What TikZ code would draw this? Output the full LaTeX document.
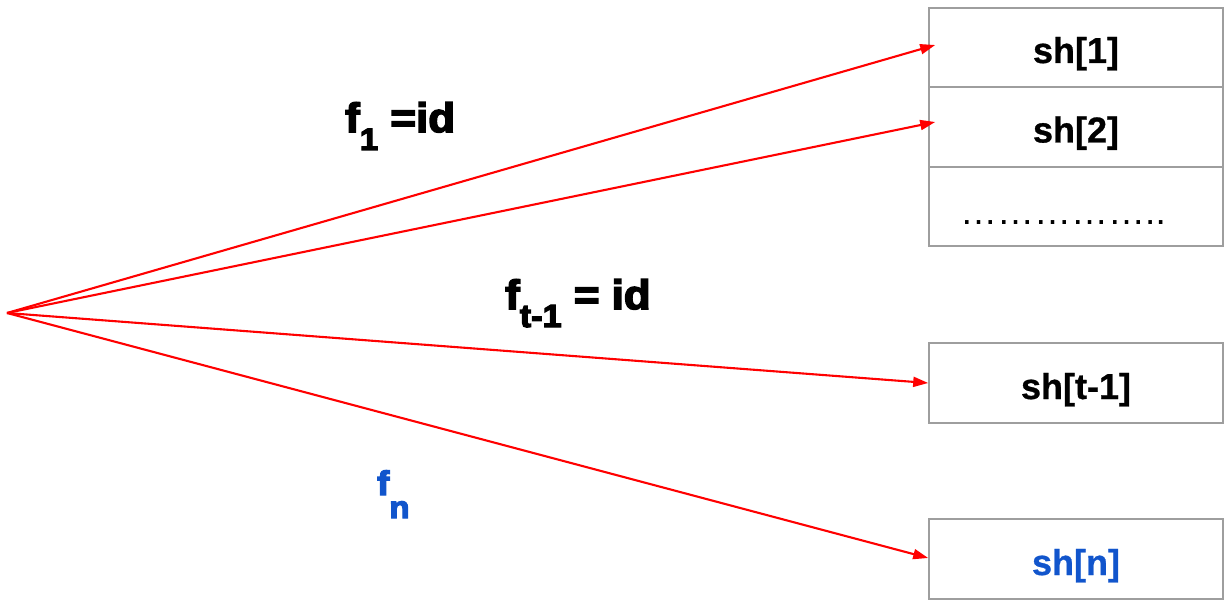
\documentclass[tikz,border=0pt]{standalone}
\usepackage{fontspec}
\setmainfont{Liberation Sans}
\newfontfamily\lblfont[FakeBold=4,FakeStretch=1.07]{Liberation Sans Bold}
\newfontfamily\cellfont[FakeBold=0.8]{Liberation Sans Bold}
\usetikzlibrary{arrows.meta}
\definecolor{arrred}{RGB}{255,0,0}
\definecolor{lblblue}{RGB}{17,85,204}
\definecolor{boxgray}{RGB}{158,158,158}
\tikzset{
  cell/.style={draw=boxgray, line width=1.6pt, minimum width=294pt, minimum height=79.5pt, inner sep=0pt, text height=32pt, text depth=0pt, font=\fontsize{36}{40}\cellfont},
  maparrow/.style={draw=arrred, line width=2.1pt, -{Triangle[length=15pt,width=10pt]}},
  lbl/.style={inner sep=0pt, anchor=base west, font=\fontsize{41}{44}\lblfont}
}
\newcommand{\subsc}[3]{\raisebox{-#1pt}{\fontsize{#2}{30}\lblfont #3}}
\begin{document}
\begin{tikzpicture}[x=1pt,y=-1pt]
\useasboundingbox (0,0) rectangle (1225,601);
\node[cell, text height=31pt] (b1) at (1076,47.5) {sh[1]};
\node[cell, text height=31pt] (b2) at (1076,127) {sh[2]};
\node[cell] (b3) at (1076,206.5) {};
\node[inner sep=0pt, anchor=base, font=\fontsize{37}{40}\selectfont] (dots) at (1063,225) {……………..};
\node[cell] (bt) at (1076,383) {sh[t-1]};
\node[cell, text=lblblue] (bn) at (1076,559) {sh[n]};
\coordinate (o) at (7,313);
\coordinate (e1) at ([xshift=7pt,yshift=2.5pt]b1.west);
\coordinate (e2) at ([xshift=7pt,yshift=5pt]b2.west);
\draw[maparrow] (o) -- (e1);
\draw[maparrow] (o) -- (e2);
\draw[maparrow] (o) -- (bt.west);
\draw[maparrow] (o) -- ([yshift=1pt]bn.west);
\node[lbl] (l1) at (345,132) {f\subsc{18}{31}{1} =id};
\node[lbl] (lt) at (505,309) {f\subsc{18}{32}{t-1} = id};
\node[lbl, text=lblblue, font=\fontsize{34}{38}\lblfont] (ln) at (377,495) {f\subsc{23}{31}{n}};
\end{tikzpicture}
\end{document}
